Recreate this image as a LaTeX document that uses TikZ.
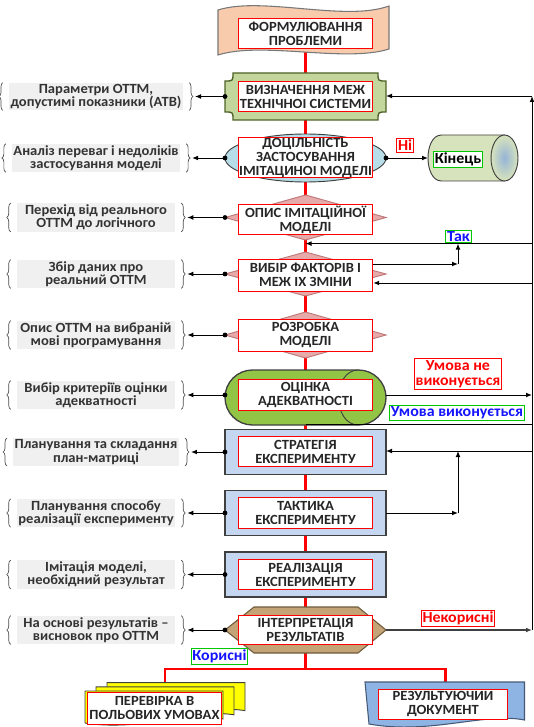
\documentclass[tikz,border=0pt]{standalone}
\usepackage{fontspec}
\setmainfont{Carlito}[FakeStretch=1.04]
\usetikzlibrary{arrows.meta,decorations.pathreplacing}
\pgfdeclarelayer{background}
\pgfsetlayers{background,main}

\definecolor{tapefill}{RGB}{248,203,173}
\definecolor{tapeline}{RGB}{120,120,120}
\definecolor{plaquefill}{RGB}{195,214,155}
\definecolor{plaqueline}{RGB}{79,98,40}
\definecolor{ellfill}{RGB}{183,222,232}
\definecolor{diafill}{RGB}{230,170,170}
\definecolor{dialine}{RGB}{192,120,120}
\definecolor{stadfill}{RGB}{146,196,70}
\definecolor{expfill}{RGB}{197,214,240}
\definecolor{hexfill}{RGB}{196,163,118}
\definecolor{hexline}{RGB}{110,90,60}
\definecolor{pagefill}{RGB}{255,255,0}
\definecolor{docfill}{RGB}{142,180,227}
\definecolor{docline}{RGB}{70,90,120}
\definecolor{cylfill}{RGB}{215,227,188}
\definecolor{cylcap}{RGB}{150,180,215}
\definecolor{notegray}{RGB}{240,240,240}
\definecolor{okgreen}{RGB}{0,200,0}
\definecolor{txtblue}{RGB}{20,20,255}
\definecolor{darkline}{RGB}{64,64,64}

\tikzset{
  inbox/.style={draw=red, fill=white, line width=0.6pt, minimum width=101pt,
    minimum height=23pt, inner sep=0.5pt, align=center, text=black!85,
    font=\fontsize{10.5}{10.5}\selectfont\bfseries},
  note/.style={fill=notegray, minimum width=118.5pt, minimum height=19pt,
    inner sep=1pt, align=center, text=black!80,
    font=\fontsize{10.5}{10}\selectfont\bfseries},
  redlbl/.style={draw=red, fill=white, text=red, line width=0.6pt, inner sep=1pt,
    align=center, font=\fontsize{11.5}{11.5}\selectfont\bfseries},
  bluelbl/.style={redlbl, draw=okgreen, text=txtblue},
  stem/.style={red, line width=1.6pt},
  link/.style={line width=0.7pt},
  arr/.style={link, -{Latex[length=4.5pt,width=3.6pt]}},
  notebrace/.style={decorate, decoration={brace, amplitude=3pt}, line width=0.5pt, black!70},
  tapeshape/.style={fill=tapefill, draw=tapeline, line width=0.8pt},
  plaque/.style={fill=plaquefill, draw=plaqueline, line width=1pt},
  ellshape/.style={fill=ellfill, draw=darkline, line width=0.7pt},
  diashape/.style={fill=diafill, draw=dialine, line width=0.7pt},
  stadshape/.style={fill=stadfill, draw=darkline, line width=1pt},
  expshape/.style={fill=expfill, draw=darkline, line width=1.1pt},
  hexshape/.style={fill=hexfill, draw=hexline, line width=0.8pt},
  pageshape/.style={fill=pagefill, draw=darkline, line width=0.7pt},
  docshape/.style={fill=docfill, draw=docline, line width=0.8pt},
}

\begin{document}
\begin{tikzpicture}[x=0.75pt,y=-0.75pt]
\useasboundingbox (0,0) rectangle (534,727);

% Drawing tape (problem)
\draw[tapeshape] (218,10) .. controls (262,-4) and (345,22) .. (389,6) -- (389,49)
  .. controls (345,63) and (262,41) .. (218,55) -- cycle;%
\node[inbox, minimum height=22pt] (problem) at (305.5,33.5) {ФОРМУЛЮВАННЯ\\ПРОБЛЕМИ};%

% Drawing plaque (bounds)
\draw[plaque] (233,73) -- (378,73) .. controls (378,81) .. (386,81) -- (386,112)
  .. controls (378,112) .. (378,120) -- (233,120) .. controls (233,112) .. (225,112)
  -- (225,81) .. controls (233,81) .. (233,73) -- cycle;%
\node[inbox] (bounds) at (305.5,96.5) {ВИЗНАЧЕННЯ МЕЖ\\ТЕХНІЧНОІ СИСТЕМИ};%
\coordinate (bndL) at (225,96.5);
\coordinate (bndR) at (386,96);

% Drawing ellipse (feasibility)
\draw[ellshape] (305.5,158) ellipse [x radius=80.5, y radius=24];%
\node[inbox, minimum height=29pt] (feas) at (305.5,157.5) {ДОЦІЛЬНІСТЬ\\ЗАСТОСУВАННЯ\\ІМІТАЦИНОІ МОДЕЛІ};%
\coordinate (feasL) at (225,158);
\coordinate (feasR) at (386,158);

% Drawing cylinder (end)
\draw[fill=cylfill, draw=darkline, line width=0.7pt] (441.5,135) -- (504.5,135) -- (504.5,181)
  -- (441.5,181) .. controls (423.5,181) and (423.5,135) .. (441.5,135) -- cycle;%
\shade[inner color=cylcap, outer color=cylfill] (504.5,158) ellipse [x radius=13.5, y radius=23];%
\draw[darkline, line width=0.7pt] (504.5,158) ellipse [x radius=13.5, y radius=23];%
\node[bluelbl, text=black] (fin) at (458,159) {Кінець};%
\coordinate (endL) at (428,158);

% Drawing diamond (description)
\draw[diashape] (225,217.5) -- (305.5,195) -- (386,217.5) -- (305.5,240) -- cycle;%
\node[inbox] (desc) at (305.5,219.5) {ОПИС ІМІТАЦІЙНОЇ\\МОДЕЛІ};%
\coordinate (descL) at (225,217.5);

% Drawing diamond (factors)
\draw[diashape] (225,274) -- (305.5,252) -- (386,274) -- (305.5,296) -- cycle;%
\node[inbox, minimum height=24pt] (factors) at (305.5,275) {ВИБІР ФАКТОРІВ І\\МЕЖ ІХ ЗМІНИ};%
\coordinate (factL) at (225,274);

% Drawing diamond (development)
\draw[diashape] (225,335) -- (305.5,312) -- (386,335) -- (305.5,358) -- cycle;%
\node[inbox, minimum height=24pt] (devel) at (305.5,335) {РОЗРОБКА\\МОДЕЛІ};%
\coordinate (devL) at (225,335);

% Drawing stadium (adequacy)
\draw[stadshape, rounded corners=20.6pt] (225,370) rectangle (386,425);%
\draw[darkline, line width=0.7pt] (358.5,370) .. controls (332,370) and (332,425) .. (358.5,425);%
\node[inbox] (adeq) at (305.5,395) {ОЦІНКА\\АДЕКВАТНОСТІ};%
\coordinate (adeqL) at (225,395);
\coordinate (adeqR) at (386,395);

% Drawing rectangle (strategy)
\draw[expshape] (225,429.5) rectangle (386,474.5);%
\node[inbox] (strat) at (305.5,451.5) {СТРАТЕГІЯ\\ЕКСПЕРИМЕНТУ};%
\coordinate (stratL) at (225,452);
\coordinate (stratR) at (386,451);

% Drawing rectangle (tactics)
\draw[expshape] (225,490.5) rectangle (386,535.5);%
\node[inbox] (tact) at (305.5,513) {ТАКТИКА\\ЕКСПЕРИМЕНТУ};%
\coordinate (tactL) at (225,513);
\coordinate (tactR) at (386,513);

% Drawing rectangle (realisation)
\draw[expshape] (225,552) rectangle (386,597);%
\node[inbox, minimum height=22.5pt] (real) at (305.5,574.5) {РЕАЛІЗАЦІЯ\\ЕКСПЕРИМЕНТУ};%
\coordinate (realL) at (225,574.5);

% Drawing hexagon (interpretation)
\draw[hexshape] (254,607) -- (358,607) -- (386,630) -- (358,653) -- (254,653) -- (225,630) -- cycle;%
\node[inbox, minimum height=22pt] (interp) at (305.5,630) {ІНТЕРПРЕТАЦІЯ\\РЕЗУЛЬТАТІВ};%
\coordinate (interpL) at (225,630);
\coordinate (interpR) at (386,630);

% Drawing pages (field check)
\draw[pageshape] (107,682.6) -- (245,682.6) -- (245,710.6) .. controls (207,704.6) and (157,722.6) .. (107,714.6) -- cycle;%
\draw[pageshape] (96,686.8) -- (234,686.8) -- (234,714.8) .. controls (196,708.8) and (146,726.8) .. (96,718.8) -- cycle;%
\draw[pageshape] (85,691) -- (223,691) -- (223,719) .. controls (185,713) and (135,731) .. (85,723) -- cycle;%
\node[inbox, minimum height=24pt] (check) at (154.5,708) {ПЕРЕВІРКА В\\ПОЛЬОВИХ УМОВАХ};%
\coordinate (checkTop) at (165,682.6);

% Drawing document (result)
\draw[docshape] (365,682) -- (524.5,682) -- (524.5,720) .. controls (485,712) and (430,735) .. (369,724) -- cycle;%
\node[inbox, minimum width=97pt, minimum height=22.5pt] (result) at (443,704) {РЕЗУЛЬТУЮЧИИ\\ДОКУМЕНТ};%
\coordinate (resultTop) at (445.5,682);

% Drawing main stem
\begin{pgfonlayer}{background}
\draw[stem] (problem) -- (interp);%
\coordinate (brJ) at (305.5,669);
\draw[stem] (interp) -- (brJ) -| (checkTop);%
\draw[stem] (brJ) -| (resultTop);%
\end{pgfonlayer}

% Marking notes on the left
\node[note] (n1) at (96,96.5) {Параметри ОТТМ,\\допустимі показники (АТВ)};%
\node[note] (n2) at (96,158) {Аналіз переваг і недоліків\\застосування моделі};%
\node[note] (n3) at (96,217.5) {Перехід від реального\\ОТТМ до логічного};%
\node[note] (n4) at (96,274) {Збір даних про\\реальний ОТТМ};%
\node[note] (n5) at (96,335) {Опис ОТТМ на вибраній\\мові програмування};%
\node[note] (n6) at (96,395) {Вибір критеріїв оцінки\\адекватності};%
\node[note] (n7) at (96,452) {Планування та складання\\план-матриці};%
\node[note] (n8) at (96,513) {Планування способу\\реалізації експерименту};%
\node[note] (n9) at (96,574.5) {Імітація моделі,\\необхідний результат};%
\node[note] (n10) at (96,630) {На основі результатів –\\висновок про ОТТМ};%

% Drawing braces round the notes
\draw[notebrace] ([xshift=-4.5pt]n1.south west) -- ([xshift=-4.5pt]n1.north west);%
\draw[notebrace] ([xshift=4.5pt]n1.north east) -- ([xshift=4.5pt]n1.south east);%
\draw[notebrace] ([xshift=-4.5pt]n2.south west) -- ([xshift=-4.5pt]n2.north west);%
\draw[notebrace] ([xshift=4.5pt]n2.north east) -- ([xshift=4.5pt]n2.south east);%
\draw[notebrace] ([xshift=-4.5pt]n3.south west) -- ([xshift=-4.5pt]n3.north west);%
\draw[notebrace] ([xshift=4.5pt]n3.north east) -- ([xshift=4.5pt]n3.south east);%
\draw[notebrace] ([xshift=-4.5pt]n4.south west) -- ([xshift=-4.5pt]n4.north west);%
\draw[notebrace] ([xshift=4.5pt]n4.north east) -- ([xshift=4.5pt]n4.south east);%
\draw[notebrace] ([xshift=-4.5pt]n5.south west) -- ([xshift=-4.5pt]n5.north west);%
\draw[notebrace] ([xshift=4.5pt]n5.north east) -- ([xshift=4.5pt]n5.south east);%
\draw[notebrace] ([xshift=-4.5pt]n6.south west) -- ([xshift=-4.5pt]n6.north west);%
\draw[notebrace] ([xshift=4.5pt]n6.north east) -- ([xshift=4.5pt]n6.south east);%
\draw[notebrace] ([xshift=-4.5pt]n7.south west) -- ([xshift=-4.5pt]n7.north west);%
\draw[notebrace] ([xshift=4.5pt]n7.north east) -- ([xshift=4.5pt]n7.south east);%
\draw[notebrace] ([xshift=-4.5pt]n8.south west) -- ([xshift=-4.5pt]n8.north west);%
\draw[notebrace] ([xshift=4.5pt]n8.north east) -- ([xshift=4.5pt]n8.south east);%
\draw[notebrace] ([xshift=-4.5pt]n9.south west) -- ([xshift=-4.5pt]n9.north west);%
\draw[notebrace] ([xshift=4.5pt]n9.north east) -- ([xshift=4.5pt]n9.south east);%
\draw[notebrace] ([xshift=-4.5pt]n10.south west) -- ([xshift=-4.5pt]n10.north west);%
\draw[notebrace] ([xshift=4.5pt]n10.north east) -- ([xshift=4.5pt]n10.south east);%

% Drawing arrows to the notes
\draw[arr] (bndL) -- ([xshift=9pt]n1.east);%
\draw[arr] (feasL) -- ([xshift=9pt]n2.east);%
\draw[arr] (descL) -- ([xshift=9pt]n3.east);%
\draw[arr] (factL) -- ([xshift=9pt]n4.east);%
\draw[arr] (devL) -- ([xshift=9pt]n5.east);%
\draw[arr] (adeqL) -- ([xshift=9pt]n6.east);%
\draw[arr] (stratL) -- ([xshift=9pt]n7.east);%
\draw[arr] (tactL) -- ([xshift=9pt]n8.east);%
\draw[arr] (realL) -- ([xshift=9pt]n9.east);%
\draw[arr] (interpL) -- ([xshift=9pt]n10.east);%
\fill (bndL) circle [radius=2.4];%
\fill (feasL) circle [radius=2.4];%
\fill (descL) circle [radius=2.4];%
\fill (factL) circle [radius=2.4];%
\fill (devL) circle [radius=2.4];%
\fill (adeqL) circle [radius=2.4];%
\fill (stratL) circle [radius=2.4];%
\fill (tactL) circle [radius=2.4];%
\fill (realL) circle [radius=2.4];%
\fill (interpL) circle [radius=2.4];%

% Drawing feedback lines on the right
\coordinate (rTop) at (532,96);
\coordinate (rBot) at (532,630);
\coordinate (rYes) at (532,243.6);
\coordinate (stemYes) at (305.5,243.6);
\coordinate (yesB) at (458,264);
\coordinate (yesC) at (458,243.6);
\coordinate (rFac) at (532,283);
\coordinate (rNo) at (532,395);
\coordinate (stemOk) at (305.5,424.5);
\coordinate (rOk) at (532,424.5);
\coordinate (rStr) at (532,451);
\coordinate (tacB) at (458,513);
\coordinate (tacC) at (458,451);
\draw[arr] (feasR) -- (endL);%
\fill (feasR) circle [radius=2.4];%
\draw[arr] ([yshift=8.25pt]factors.east) -- (yesB);%
\draw[arr] (yesB) -- (yesC);%
\draw[arr] (rYes) -- (stemYes);%
\draw[arr] (rFac) -- ([yshift=-6pt]factors.east);%
\draw[arr] (adeqR) -- (rNo);%
\draw[link] (stemOk) -- (rOk);%
\draw[arr] (rStr) -- (stratR);%
\draw[arr] (tactR) -- (tacB);%
\draw[arr] (tacB) -- (tacC);%
\draw[arr, line width=0.9pt, black!75] (interpR) -- (rBot);%
\draw[arr] (rBot) -- (rTop);%
\draw[arr] (rTop) -- (bndR);%

% Marking labels
\node[redlbl] (noLbl) at (405,145.5) {Ні};%
\node[bluelbl] (yesLbl) at (458.5,236.5) {Так};%
\node[redlbl] (failLbl) at (458,374) {Умова не\\виконується};%
\node[bluelbl] (passLbl) at (457,412.5) {Умова виконується};%
\node[redlbl] (uselessLbl) at (458,618.5) {Некорисні};%
\node[bluelbl] (usefulLbl) at (219.5,656.8) {Корисні};%
\end{tikzpicture}
\end{document}
